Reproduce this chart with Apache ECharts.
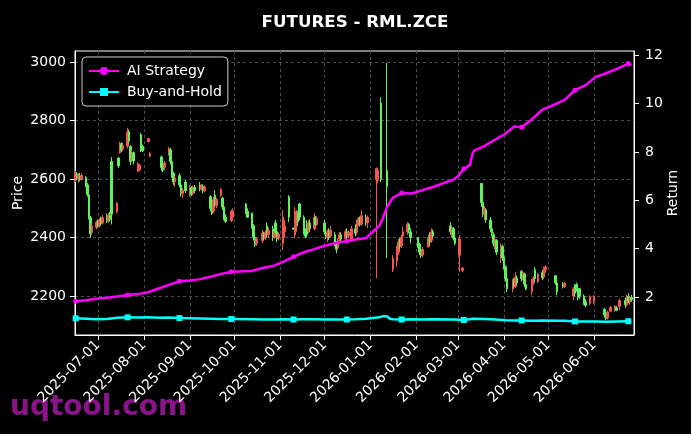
<!DOCTYPE html>
<html>
<head>
<meta charset="utf-8">
<script src="https://cdn.jsdelivr.net/npm/echarts@6/dist/echarts.min.js"></script>
<style>
  html, body { margin: 0; padding: 0; background: #000; }
  #chart { width: 691px; height: 434px; }
</style>
</head>
<body>
<div id="chart"></div>
<script>
// daily candles: [date, open, close, low, high]
const candles = [
  ['2025-06-16',2600,2618,2590,2628],['2025-06-17',2618,2602,2596,2624],['2025-06-18',2600,2614,2588,2620],
  ['2025-06-19',2612,2598,2592,2622],['2025-06-20',2600,2612,2596,2620],['2025-06-23',2606,2580,2572,2610],
  ['2025-06-24',2580,2548,2540,2586],['2025-06-25',2546,2470,2462,2550],['2025-06-26',2468,2412,2398,2474],
  ['2025-06-27',2418,2440,2410,2448],['2025-06-30',2436,2452,2428,2458],['2025-07-01',2452,2440,2434,2462],
  ['2025-07-02',2442,2460,2436,2466],['2025-07-03',2458,2448,2440,2472],['2025-07-04',2450,2468,2445,2478],
  ['2025-07-07',2470,2458,2450,2482],['2025-07-08',2456,2476,2450,2484],['2025-07-09',2476,2462,2455,2488],
  ['2025-07-10',2660,2480,2445,2675],['2025-07-14',2488,2518,2482,2522],['2025-07-15',2672,2645,2638,2676],
  ['2025-07-16',2690,2722,2686,2728],['2025-07-17',2720,2700,2692,2726],['2025-07-18',2702,2716,2696,2724],
  ['2025-07-21',2712,2760,2705,2775],['2025-07-22',2762,2730,2722,2770],['2025-07-23',2712,2660,2648,2716],
  ['2025-07-24',2668,2690,2660,2700],['2025-07-25',2690,2662,2650,2694],['2025-07-28',2628,2652,2624,2658],
  ['2025-07-29',2632,2648,2626,2652],['2025-07-30',2752,2700,2692,2757],['2025-07-31',2712,2696,2692,2718],
  ['2025-08-04',2728,2738,2725,2742],['2025-08-05',2678,2688,2675,2692],
  ['2025-08-13',2676,2640,2628,2680],['2025-08-14',2650,2632,2624,2660],['2025-08-15',2640,2655,2630,2662],
  ['2025-08-18',2690,2705,2680,2710],['2025-08-19',2700,2660,2650,2706],['2025-08-20',2660,2612,2605,2668],
  ['2025-08-21',2620,2590,2580,2625],['2025-08-22',2592,2604,2573,2610],['2025-08-25',2612,2580,2572,2620],
  ['2025-08-26',2580,2550,2540,2586],['2025-08-27',2550,2562,2535,2570],['2025-08-29',2590,2560,2552,2597],
  ['2025-09-01',2560,2572,2540,2580],['2025-09-02',2570,2548,2542,2576],['2025-09-03',2550,2570,2545,2578],
  ['2025-09-04',2572,2560,2552,2580],['2025-09-08',2580,2566,2558,2590],['2025-09-09',2566,2578,2560,2584],
  ['2025-09-10',2575,2560,2552,2582],['2025-09-11',2560,2572,2555,2580],['2025-09-15',2540,2500,2490,2545],
  ['2025-09-16',2500,2482,2477,2510],['2025-09-17',2490,2530,2484,2540],['2025-09-18',2545,2515,2505,2562],
  ['2025-09-19',2510,2530,2500,2536],['2025-09-22',2545,2565,2538,2569],['2025-09-23',2535,2505,2495,2538],
  ['2025-09-24',2505,2470,2460,2512],['2025-09-25',2470,2456,2450,2480],['2025-09-29',2458,2490,2453,2496],
  ['2025-09-30',2470,2492,2462,2500],
  ['2025-10-09',2515,2490,2480,2518],['2025-10-10',2490,2470,2467,2500],['2025-10-13',2484,2440,2430,2484],
  ['2025-10-14',2440,2400,2390,2446],['2025-10-15',2400,2375,2367,2410],['2025-10-16',2380,2395,2372,2402],
  ['2025-10-20',2390,2415,2381,2426],['2025-10-21',2412,2398,2390,2420],['2025-10-22',2400,2418,2392,2424],
  ['2025-10-23',2440,2410,2400,2452],['2025-10-24',2410,2425,2398,2435],['2025-10-27',2430,2400,2388,2440],
  ['2025-10-28',2402,2420,2396,2428],['2025-10-29',2450,2420,2412,2460],['2025-10-30',2420,2395,2385,2428],
  ['2025-10-31',2398,2412,2390,2418],['2025-11-03',2380,2470,2357,2494],['2025-11-04',2420,2440,2400,2460],
  ['2025-11-07',2540,2470,2453,2545],['2025-11-10',2432,2428,2426,2434],['2025-11-11',2410,2490,2398,2504],
  ['2025-11-12',2440,2480,2420,2495],['2025-11-13',2480,2455,2440,2490],['2025-11-14',2515,2470,2460,2518],
  ['2025-11-17',2470,2420,2410,2476],['2025-11-18',2425,2405,2398,2432],['2025-11-19',2440,2410,2400,2460],
  ['2025-11-20',2420,2450,2415,2458],['2025-11-21',2450,2430,2420,2462],['2025-11-24',2430,2470,2425,2484],
  ['2025-11-25',2468,2445,2438,2474],['2025-11-26',2445,2465,2440,2472],['2025-12-01',2450,2420,2410,2460],
  ['2025-12-02',2420,2405,2395,2430],['2025-12-03',2400,2420,2385,2428],['2025-12-04',2420,2400,2392,2432],
  ['2025-12-05',2405,2425,2398,2440],['2025-12-08',2410,2380,2370,2419],['2025-12-09',2380,2360,2347,2388],
  ['2025-12-10',2365,2390,2358,2398],['2025-12-11',2395,2410,2381,2420],['2025-12-12',2410,2395,2388,2418],
  ['2025-12-15',2398,2420,2392,2428],['2025-12-16',2420,2405,2396,2432],['2025-12-17',2405,2418,2398,2425],
  ['2025-12-19',2395,2430,2385,2440],['2025-12-22',2430,2415,2405,2445],['2025-12-23',2418,2450,2410,2460],
  ['2025-12-24',2450,2465,2440,2470],['2025-12-25',2462,2445,2438,2472],['2025-12-26',2446,2475,2440,2494],
  ['2025-12-29',2470,2452,2440,2480],['2025-12-30',2450,2470,2432,2476],
  ['2026-01-05',2600,2636,2261,2640],['2026-01-06',2595,2630,2585,2638],['2026-01-08',2860,2600,2590,2880],
  ['2026-01-12',2630,2575,2330,2997],['2026-01-16',2290,2330,2282,2340],['2026-01-19',2320,2360,2300,2372],
  ['2026-01-20',2350,2385,2340,2395],['2026-01-21',2380,2370,2360,2400],['2026-01-22',2372,2400,2364,2410],
  ['2026-01-23',2405,2420,2390,2438],['2026-01-26',2420,2445,2410,2453],['2026-01-27',2445,2425,2415,2450],
  ['2026-01-28',2420,2400,2380,2432],['2026-02-02',2400,2375,2365,2402],['2026-02-03',2378,2350,2340,2382],
  ['2026-02-04',2352,2338,2330,2360],['2026-02-05',2340,2360,2332,2368],['2026-02-09',2368,2400,2367,2410],
  ['2026-02-10',2400,2385,2375,2418],['2026-02-11',2390,2420,2382,2432],['2026-02-12',2420,2405,2398,2428],
  ['2026-02-24',2440,2420,2410,2453],['2026-02-25',2425,2435,2400,2442],['2026-02-26',2430,2398,2390,2436],
  ['2026-02-27',2398,2380,2374,2405],['2026-03-02',2340,2395,2282,2408],['2026-03-04',2288,2296,2282,2300],
  ['2026-03-17',2585,2520,2505,2586],['2026-03-18',2520,2480,2470,2530],['2026-03-19',2480,2500,2460,2508],
  ['2026-03-20',2495,2460,2450,2500],['2026-03-23',2460,2430,2420,2470],['2026-03-24',2430,2415,2405,2438],
  ['2026-03-25',2410,2380,2370,2418],['2026-03-26',2380,2395,2360,2400],['2026-03-27',2390,2350,2340,2395],
  ['2026-03-30',2350,2370,2313,2381],['2026-03-31',2370,2330,2320,2376],['2026-04-01',2333,2300,2290,2336],
  ['2026-04-02',2300,2260,2250,2305],['2026-04-03',2260,2225,2214,2268],['2026-04-07',2225,2250,2214,2258],
  ['2026-04-08',2250,2232,2225,2262],['2026-04-09',2232,2265,2228,2282],['2026-04-10',2262,2245,2238,2270],
  ['2026-04-13',2285,2260,2250,2289],['2026-04-14',2265,2280,2255,2286],['2026-04-15',2275,2240,2230,2280],
  ['2026-04-16',2240,2225,2220,2250],['2026-04-20',2215,2250,2203,2258],['2026-04-21',2245,2262,2238,2268],
  ['2026-04-22',2290,2260,2248,2299],['2026-04-24',2250,2275,2244,2280],['2026-04-27',2280,2262,2255,2290],
  ['2026-04-28',2265,2290,2258,2300],['2026-04-29',2290,2300,2280,2306],['2026-05-06',2270,2245,2238,2272],
  ['2026-05-07',2245,2215,2203,2250],['2026-05-11',2240,2232,2226,2248],['2026-05-12',2232,2244,2228,2250],
  ['2026-05-18',2200,2225,2186,2231],['2026-05-19',2225,2210,2200,2240],['2026-05-20',2240,2225,2215,2246],
  ['2026-05-21',2225,2195,2185,2230],['2026-05-22',2225,2200,2190,2227],['2026-05-25',2200,2180,2170,2206],
  ['2026-05-26',2180,2168,2162,2190],['2026-05-29',2175,2198,2169,2203],['2026-06-01',2180,2200,2172,2203],
  ['2026-06-08',2155,2135,2126,2159],['2026-06-09',2135,2122,2118,2140],['2026-06-10',2125,2145,2120,2150],
  ['2026-06-12',2148,2162,2145,2166],['2026-06-15',2150,2165,2146,2169],['2026-06-16',2160,2152,2148,2166],
  ['2026-06-18',2165,2185,2152,2190],['2026-06-22',2185,2170,2160,2195],['2026-06-23',2170,2195,2165,2205],
  ['2026-06-24',2200,2185,2175,2210],['2026-06-25',2180,2195,2170,2200],['2026-06-26',2195,2188,2180,2204]
];

// return curves
const lineDates = [
  '2025-06-16','2025-06-23','2025-06-30','2025-07-07','2025-07-14','2025-07-21','2025-07-28','2025-08-04',
  '2025-08-11','2025-08-18','2025-08-25','2025-09-01','2025-09-08','2025-09-15','2025-09-22','2025-09-29',
  '2025-10-13','2025-10-20','2025-10-27','2025-11-03','2025-11-10','2025-11-17','2025-11-24','2025-12-01',
  '2025-12-08','2025-12-16','2025-12-22','2025-12-29','2026-01-07','2026-01-09','2026-01-12','2026-01-14',
  '2026-01-16','2026-01-22','2026-01-29','2026-02-05','2026-02-12','2026-02-26','2026-03-02','2026-03-05',
  '2026-03-09','2026-03-11','2026-03-12','2026-03-19','2026-03-26','2026-04-02','2026-04-08','2026-04-13',
  '2026-04-20','2026-04-27','2026-05-07','2026-05-12','2026-05-19','2026-05-26','2026-06-02','2026-06-09',
  '2026-06-16','2026-06-24','2026-06-26'
];
const aiReturn = [
  1.83,1.87,1.93,1.97,2.02,2.08,2.12,2.2,2.35,2.5,2.65,2.68,2.74,2.84,2.95,3.04,
  3.08,3.2,3.28,3.45,3.66,3.85,3.98,4.12,4.22,4.32,4.38,4.44,4.95,5.2,5.7,5.9,
  6.1,6.3,6.28,6.42,6.55,6.85,7.05,7.3,7.45,7.95,8.05,8.25,8.5,8.75,9.05,9.02,
  9.35,9.75,10.0,10.15,10.55,10.75,11.1,11.25,11.42,11.65,11.58
];
const bhReturn = [
  1.12,1.1,1.08,1.09,1.14,1.16,1.15,1.16,1.14,1.15,1.13,1.12,1.11,1.1,1.09,1.09,
  1.08,1.07,1.07,1.08,1.07,1.08,1.08,1.07,1.07,1.07,1.08,1.1,1.16,1.2,1.21,1.1,
  1.08,1.07,1.08,1.07,1.08,1.07,1.06,1.05,1.08,1.1,1.11,1.09,1.07,1.04,1.03,1.03,
  1.02,1.03,1.02,1.02,0.99,0.99,0.99,0.98,0.99,1.0,1.0
];
const markerDates = ['2025-06-16','2025-07-21','2025-08-25','2025-09-29','2025-11-10','2025-12-16',
  '2026-01-22','2026-03-05','2026-04-13','2026-05-19','2026-06-24'];

const monthTicks = ['2025-07-01','2025-08-01','2025-09-01','2025-10-01','2025-11-01','2025-12-01',
  '2026-01-01','2026-02-01','2026-03-01','2026-04-01','2026-05-01','2026-06-01'];
const priceTicks = [2200, 2400, 2600, 2800, 3000];
const returnTicks = [2, 4, 6, 8, 10, 12];

const UP = '#f2564f';
const DOWN = '#5ff25f';
const FONT = 'DejaVu Sans';

function toTime(s) {
  const p = s.split('-');
  return new Date(+p[0], +p[1] - 1, +p[2]).getTime();
}
function pad(n) { return n < 10 ? '0' + n : '' + n; }
function fmtDate(v) {
  const d = new Date(v);
  return d.getFullYear() + '-' + pad(d.getMonth() + 1) + '-' + pad(d.getDate());
}
function lineData(values) {
  return lineDates.map(function (d, i) {
    const item = { value: [toTime(d), values[i]] };
    if (markerDates.indexOf(d) < 0) item.symbol = 'none';
    return item;
  });
}

const myChart = echarts.init(document.getElementById('chart'));
const tickTimes = monthTicks.map(toTime);

myChart.setOption({
  backgroundColor: '#000',
  animation: false,
  title: {
    text: 'FUTURES - RML.ZCE',
    left: 350,
    top: 9,
    textAlign: 'center',
    textStyle: { color: '#fff', fontSize: 16.7, fontWeight: 'bold', fontFamily: FONT }
  },
  legend: {
    data: ['AI Strategy', 'Buy-and-Hold'],
    orient: 'vertical',
    left: 82,
    top: 57,
    itemWidth: 30,
    itemHeight: 10,
    itemGap: 7,
    padding: [7, 6, 7, 6],
    backgroundColor: '#000',
    borderColor: '#cccccc',
    borderWidth: 1,
    borderRadius: 4,
    textStyle: { color: '#fff', fontSize: 14, fontFamily: FONT, padding: [0, 0, 0, 3] }
  },
  graphic: [{
    type: 'text',
    left: 10,
    top: 394,
    z: 0,
    style: { text: 'uqtool.com', fill: '#8b148b', font: 'bold 28px "DejaVu Sans"' }
  }],
  grid: {
    left: 75, right: 57, top: 51, bottom: 99,
    outerBoundsMode: 'none',
    show: true, borderColor: '#fff', borderWidth: 1, backgroundColor: 'transparent'
  },
  xAxis: {
    type: 'value',
    min: toTime('2025-06-15') + 12 * 3600e3,
    max: toTime('2026-06-27') + 20 * 3600e3,
    axisLine: { lineStyle: { color: '#fff' } },
    axisTick: { customValues: tickTimes, length: 5, lineStyle: { color: '#fff' } },
    axisLabel: {
      customValues: tickTimes, rotate: 45, color: '#fff', fontSize: 14, fontFamily: FONT, margin: 8,
      formatter: function (v) { return fmtDate(v); }
    },
    splitLine: { show: true, lineStyle: { color: '#4d4d4d', type: [3, 3], width: 1 } }
  },
  yAxis: [
    {
      type: 'value',
      position: 'left',
      min: 2067, max: 3038,
      name: 'Price', nameLocation: 'middle', nameGap: 50, nameMoveOverlap: false,
      nameTextStyle: { color: '#fff', fontSize: 14, fontFamily: FONT },
      axisLine: { show: true, lineStyle: { color: '#fff' } },
      axisTick: { show: true, customValues: priceTicks, length: 5, lineStyle: { color: '#fff' } },
      axisLabel: {
        customValues: priceTicks, color: '#fff', fontSize: 14, fontFamily: FONT, margin: 9,
        formatter: function (v) { return String(v); }
      },
      splitLine: { show: true, lineStyle: { color: '#4d4d4d', type: [3, 3], width: 1 } }
    },
    {
      type: 'value',
      position: 'right',
      min: 0.43, max: 12.17,
      name: 'Return', nameLocation: 'middle', nameGap: 32, nameMoveOverlap: false,
      nameTextStyle: { color: '#fff', fontSize: 14, fontFamily: FONT },
      axisLine: { show: true, lineStyle: { color: '#fff' } },
      axisTick: { show: true, customValues: returnTicks, length: 5, lineStyle: { color: '#fff' } },
      axisLabel: { customValues: returnTicks, color: '#fff', fontSize: 14, fontFamily: FONT, margin: 11 },
      splitLine: { show: false }
    }
  ],
  series: [
    {
      name: 'Price',
      type: 'candlestick',
      yAxisIndex: 0,
      barWidth: 2,
      encode: { x: 0, y: [1, 2, 3, 4] },
      itemStyle: { color: UP, color0: DOWN, borderColor: UP, borderColor0: DOWN, borderWidth: 1 },
      data: candles.map(function (r) { return [toTime(r[0]), r[1], r[2], r[3], r[4]]; })
    },
    {
      name: 'AI Strategy',
      type: 'line',
      yAxisIndex: 1,
      symbol: 'circle',
      symbolSize: 5,
      showAllSymbol: true,
      z: 5,
      lineStyle: { color: '#ff00ff', width: 2.5 },
      itemStyle: { color: '#ff00ff' },
      data: lineData(aiReturn)
    },
    {
      name: 'Buy-and-Hold',
      type: 'line',
      yAxisIndex: 1,
      symbol: 'rect',
      symbolSize: 6,
      showAllSymbol: true,
      z: 5,
      lineStyle: { color: '#00ffff', width: 2.5 },
      itemStyle: { color: '#00ffff' },
      data: lineData(bhReturn)
    }
  ]
});
</script>
</body>
</html>
